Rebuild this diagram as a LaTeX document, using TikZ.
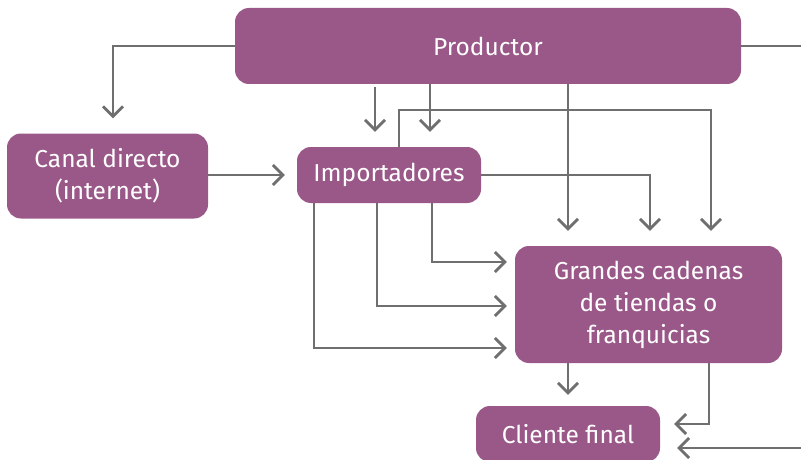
\documentclass[tikz,border=0pt]{standalone}
\usepackage{fontspec}
\setmainfont{Fira Sans}
\usetikzlibrary{arrows.meta,calc}
\definecolor{boxc}{HTML}{9A5889}
\definecolor{linec}{HTML}{6F6F6F}
\begin{document}
\begin{tikzpicture}[x=1pt,y=-1pt,
  box/.style={fill=boxc, rounded corners=14pt, text=white, font=\fontsize{24.5}{32}\selectfont, align=center, inner sep=0pt},
  conn/.style={draw=linec, line width=2.7pt},
  arr/.style={conn, -{Straight Barb[length=10pt,width=20pt,line width=2.7pt]}}]
\useasboundingbox (0,0) rectangle (801,460);
% nodes
\node[box, minimum width=506pt, minimum height=76pt] (prod) at (488,46) {Productor};
\node[box, minimum width=201pt, minimum height=85pt] (canal) at (107.5,176) {Canal directo\\(internet)};
\node[box, minimum width=184pt, minimum height=56pt] (imp) at (389,175) {Importadores};
\node[box, minimum width=267pt, minimum height=117pt] (gr) at (648.5,304.5) {Grandes cadenas\\de tiendas o\\franquicias};
\node[box, minimum width=184pt, minimum height=56pt] (cl) at (568,434) {Cliente final};
% helper coordinates
\coordinate (cA) at (375,0);
\coordinate (cB) at (430,0);
\coordinate (cC) at (399,0);
\coordinate (cD) at (568,0);
\coordinate (cE) at (650,0);
\coordinate (cF) at (711,0);
\coordinate (cG) at (432,0);
\coordinate (cH) at (377,0);
\coordinate (cI) at (314,0);
\coordinate (cJ) at (709,0);
\coordinate (cK) at (113,0);
\coordinate (rT) at (0,110);
\coordinate (r1) at (0,262);
\coordinate (r2) at (0,306);
\coordinate (r3) at (0,348);
\coordinate (r4) at (0,424);
\coordinate (edgeA) at (801,46);
\coordinate (edgeB) at (801,448);
% connectors
\draw[arr, shorten >=15pt] (prod.west) -| (canal.north -| cK);
\draw[conn] (prod.east) -- (edgeA);
\draw[arr, shorten >=12pt] (canal.east |- imp.west) -- (imp.west);
\draw[arr, shorten <=3pt, shorten >=15pt] (prod.south -| cA) -- (imp.north -| cA);
\draw[arr, shorten >=15pt] (prod.south -| cB) -- (imp.north -| cB);
\draw[arr, shorten >=15pt] (imp.north -| cC) -- (cC |- rT) -| (gr.north -| cF);
\draw[arr, shorten >=15pt] (prod.south -| cD) -- (gr.north -| cD);
\draw[arr, shorten >=15pt] (imp.east) -| (gr.north -| cE);
\draw[arr, shorten >=8pt] (imp.south -| cG) |- (gr.west |- r1);
\draw[arr, shorten >=8pt] (imp.south -| cH) |- (gr.west |- r2);
\draw[arr, shorten >=8pt] (imp.south -| cI) |- (gr.west |- r3);
\draw[arr, shorten >=11pt] (gr.south -| cD) -- (cl.north -| cD);
\draw[arr, shorten >=14pt] (gr.south -| cJ) |- (cl.east |- r4);
\draw[arr, shorten >=17pt] (edgeB) -- (cl.east |- edgeB);
\end{tikzpicture}
\end{document}
